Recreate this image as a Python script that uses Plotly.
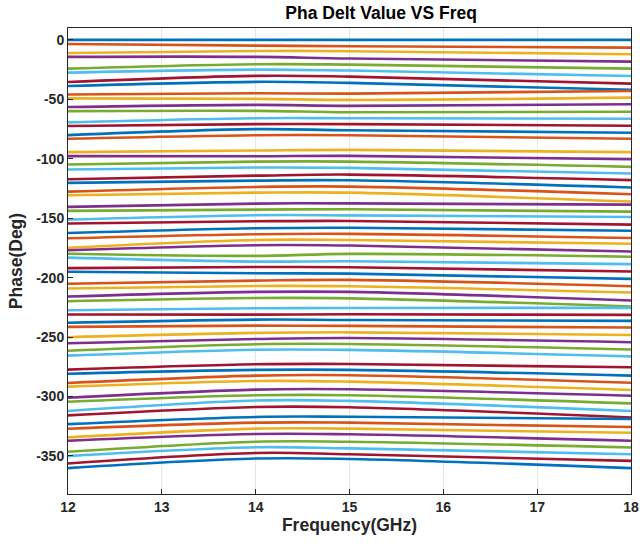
import plotly.graph_objects as go

freq = [12, 14, 15, 18]

p12 = [0, -3.4, -11, -14.3, -24.2, -27.5, -35.4, -38.8,
       -46, -49.2, -56.5, -59.9, -69.4, -72.5, -80.1, -83.2,
       -94.4, -97.8, -104.8, -109, -117.2, -120.3, -127.6, -130.7,
       -140.5, -143.8, -151.2, -154.5, -162.4, -166.9, -174.8, -177,
       -179.9, -183.2, -192, -195, -205.2, -209.1, -215.9, -219.8,
       -227.4, -231, -238, -241.4, -250.1, -255.2, -261.5, -265.6,
       -277.4, -280.8, -288.6, -291.7, -301, -304.4, -312.2, -315.9,
       -323.2, -327.1, -334.4, -337.2, -346.5, -350.1, -356.3, -360.2]

p14 = [0, -4.8, -9.3, -14.3, -20.5, -25, -30.3, -35.3,
       -44.9, -49.6, -54.7, -59.7, -65.9, -70.9, -75.1, -80.2,
       -93.1, -97.9, -102.4, -107.4, -114.2, -118.4, -123.7, -128.5,
       -137.7, -142.8, -147.5, -152.6, -158.4, -163.5, -168.3, -172.7,
       -181.7, -186.5, -191, -196.3, -202.5, -207, -212, -217.1,
       -225.8, -231.1, -235.3, -240.4, -246.5, -251.6, -256, -260.6,
       -272.9, -277.6, -282.4, -286.9, -294.2, -298.9, -303.4, -308.8,
       -317.2, -322, -327, -331.5, -338, -342.7, -347.5, -352.2]

p15 = [0, -5.3, -9.5, -15.7, -20.8, -25.8, -30.9, -36.2,
       -45.2, -50.5, -55.5, -60.9, -65.9, -70.9, -76, -80.2,
       -92.5, -97.6, -102.4, -107.7, -113.3, -118.1, -123.4, -128.5,
       -137.5, -142.5, -147.6, -152.3, -158, -163.2, -168.3, -173,
       -180, -186.2, -191.3, -196.6, -201.9, -207.2, -212, -217.4,
       -225.5, -230.8, -235.6, -240.6, -246, -250.8, -255.8, -260.8,
       -272.6, -277.6, -282.1, -287.5, -293.9, -298.9, -303.7, -309,
       -317, -322, -327, -331.8, -338, -343.6, -348.6, -352.5]

p18 = [0, -6.5, -12.1, -18.3, -24.2, -30.4, -36.8, -42,
       -43, -48.6, -54.2, -60.4, -66.3, -72.2, -78.1, -83.2,
       -94.4, -100.3, -106.8, -112.4, -118, -124.2, -129.8, -136,
       -138.6, -144.5, -149, -155.4, -160.5, -166.7, -171.5, -178,
       -182.4, -188.6, -194.8, -201, -207.2, -212.5, -219.2, -224.3,
       -225.4, -231.3, -236.4, -242, -248.2, -254.4, -260.5, -266.2,
       -275.4, -282.4, -288.4, -294.5, -299.3, -305.8, -312.2, -317.6,
       -318.9, -325.7, -330.5, -337.2, -342.9, -348.5, -354.1, -360.2]

colors = ["#0072BD", "#D95319", "#EDB120", "#7E2F8E", "#77AC30", "#4DBEEE", "#A2142F"]

xticks = [12, 13, 14, 15, 16, 17, 18]
yticks = [0, -50, -100, -150, -200, -250, -300, -350]

fig = go.Figure()
for i in range(len(p12)):
    fig.add_trace(go.Scatter(
        x=freq, y=[p12[i], p14[i], p15[i], p18[i]],
        mode="lines", line=dict(color=colors[i % 7], width=2.6, shape="spline", smoothing=1.0),
        showlegend=False, hoverinfo="skip"))

axis_common = dict(showline=True, mirror=True, linecolor="#262626", linewidth=1,
                   ticks="inside", ticklen=5, tickcolor="#262626", zeroline=False,
                   automargin=False,
                   tickfont=dict(family="Liberation Sans", size=14, color="#262626"))

fig.update_layout(
    width=640, height=544,
    paper_bgcolor="white", plot_bgcolor="white",
    margin=dict(l=68, r=9, t=28, b=50),
    font=dict(family="Liberation Sans", color="#262626"),
    title=dict(text="<b>Pha Delt Value VS Freq</b>", x=356 / 640, xref="paper", xanchor="center",
               y=1 - 13 / 544, yanchor="middle", font=dict(size=17.5, color="black")),
    xaxis=dict(range=[12, 18], tickvals=xticks, ticktext=["<b>%d</b>" % v for v in xticks],
               showgrid=True, gridcolor="#e6e6e6", gridwidth=1,
               title=dict(text="<b>Frequency(GHz)</b>", font=dict(size=17.5, color="#262626"), standoff=4),
               **axis_common),
    yaxis=dict(range=[-382, 10], tickvals=yticks, ticktext=["<b>%d</b>" % v for v in yticks],
               showgrid=False,
               title=dict(text="<b>Phase(Deg)</b>", font=dict(size=17.5, color="#262626"), standoff=9),
               **axis_common),
)

fig.write_html("out.html", config={"displayModeBar": False},
               post_script="document.body.style.margin='0';document.body.style.overflow='hidden';")
